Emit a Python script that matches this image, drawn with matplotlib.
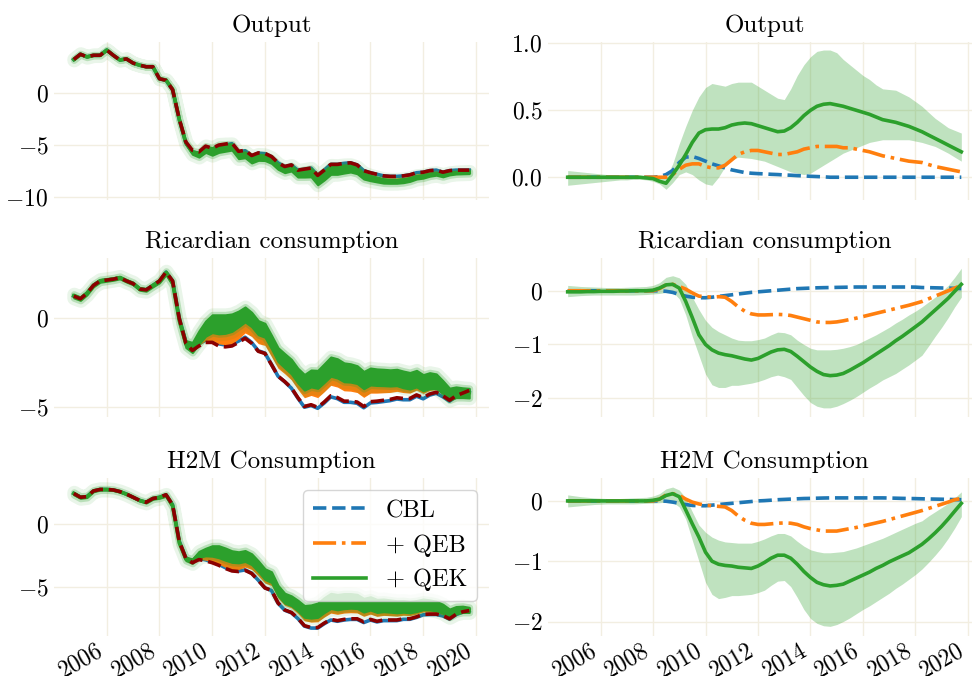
import numpy as np
import pandas as pd
import matplotlib
matplotlib.use("Agg")
import matplotlib.pyplot as plt
import matplotlib.dates as mdates
from matplotlib.ticker import FuncFormatter, FixedLocator

plt.rcParams['font.family'] = ['cmr10', 'DejaVu Serif']
plt.rcParams['mathtext.fontset'] = 'cm'
plt.rcParams['axes.unicode_minus'] = False

# ---------------- data (quarterly, 2004Q4 .. 2019Q4) ----------------
dates = pd.date_range('2004-10-01', periods=61, freq='QS')

titles = ["Output", "Ricardian consumption", "H2M Consumption"]
legend_labels = ["CBL", "+ QEB", "+ QEK"]

# observed series (left panels, dashed dark red)
out_data = [3.2, 3.7, 3.45, 3.6, 3.6, 4.1, 3.6, 3.15, 3.25, 2.85, 2.65, 2.5, 2.5, 1.35, 1.2, 0.3,
            -2.5, -4.7, -5.5, -5.65, -5.1, -5.3, -5.0, -4.9, -4.8, -5.6, -5.5, -6.0, -5.75, -5.8,
            -6.1, -6.7, -7.05, -6.9, -7.4, -7.3, -7.2, -7.9, -7.4, -6.85, -6.85, -6.75, -6.7, -6.9,
            -7.45, -7.65, -7.8, -7.95, -8.0, -8.0, -7.95, -7.85, -7.65, -7.6, -7.45, -7.4, -7.6,
            -7.45, -7.4, -7.4, -7.4]
ric_data = [1.25, 1.1, 1.4, 1.85, 2.1, 2.15, 2.2, 2.28, 2.1, 1.95, 1.65, 1.6, 1.85, 2.1, 2.6, 2.1,
            0.0, -1.4, -1.8, -1.55, -1.35, -1.35, -1.55, -1.6, -1.55, -1.35, -1.12, -1.4, -1.85, -1.97,
            -2.6, -3.25, -3.55, -3.9, -4.45, -4.95, -4.85, -5.0, -4.7, -4.35, -4.45, -4.65, -4.65, -4.7,
            -4.95, -4.68, -4.65, -4.6, -4.55, -4.46, -4.5, -4.5, -4.3, -4.45, -4.25, -4.15, -4.35,
            -4.6, -4.35, -4.2, -4.05]
h2m_data = [2.4, 2.1, 2.15, 2.6, 2.72, 2.72, 2.68, 2.55, 2.35, 2.1, 1.85, 1.7, 2.0, 2.1, 2.3, 1.5,
            -1.4, -2.75, -3.1, -2.85, -2.95, -3.1, -3.3, -3.55, -3.75, -3.8, -3.7, -3.95, -4.5, -5.1,
            -5.3, -6.3, -6.85, -7.05, -7.5, -8.1, -8.25, -8.25, -7.9, -7.6, -7.7, -7.6, -7.55, -7.55,
            -7.8, -7.6, -7.75, -7.65, -7.65, -7.65, -7.55, -7.55, -7.4, -7.2, -7.18, -7.18, -7.3,
            -7.55, -7.2, -7.0, -6.9]

# effects (right panels)
out_cbl = [0]*14 + [0.005, 0.02, 0.05, 0.11, 0.15, 0.155, 0.14, 0.12, 0.10, 0.085, 0.07, 0.055, 0.045,
           0.035, 0.03, 0.027, 0.025, 0.022, 0.02, 0.017, 0.015, 0.012, 0.01, 0.007, 0.005, 0.003] + [0.0]*21
out_qeb = [0]*16 + [0.02, 0.06, 0.09, 0.10, 0.10, 0.08, 0.07, 0.07, 0.09, 0.13, 0.17, 0.19, 0.20, 0.20,
           0.19, 0.18, 0.17, 0.17, 0.18, 0.19, 0.21, 0.22, 0.23, 0.23, 0.23, 0.23, 0.22, 0.22, 0.21,
           0.20, 0.19, 0.175, 0.16, 0.15, 0.14, 0.13, 0.12, 0.115, 0.11, 0.095, 0.08, 0.07, 0.06,
           0.05, 0.04]
out_qek = [0]*12 + [-0.005, -0.01, -0.03, -0.045, 0.02, 0.09, 0.17, 0.26, 0.33, 0.355, 0.36, 0.36,
           0.37, 0.39, 0.40, 0.405, 0.40, 0.385, 0.37, 0.355, 0.34, 0.345, 0.37, 0.41, 0.46, 0.50,
           0.53, 0.545, 0.55, 0.54, 0.53, 0.515, 0.50, 0.485, 0.47, 0.45, 0.43, 0.42, 0.41, 0.395,
           0.38, 0.36, 0.34, 0.315, 0.29, 0.265, 0.24, 0.215, 0.19]
out_qek_hi = [0.05, 0.045, 0.04, 0.035, 0.03, 0.025, 0.02, 0.018, 0.015, 0.013, 0.012, 0.01, 0.01,
              0.008, 0.0, 0.0, 0.1, 0.25, 0.38, 0.50, 0.60, 0.67, 0.70, 0.69, 0.68, 0.70, 0.71, 0.71,
              0.71, 0.68, 0.65, 0.62, 0.59, 0.58, 0.66, 0.76, 0.84, 0.90, 0.94, 0.95, 0.95, 0.93, 0.88,
              0.84, 0.80, 0.76, 0.73, 0.69, 0.66, 0.655, 0.65, 0.625, 0.60, 0.565, 0.53, 0.485, 0.44,
              0.405, 0.37, 0.35, 0.33]
out_qek_lo = [-0.06, -0.055, -0.05, -0.045, -0.04, -0.035, -0.03, -0.025, -0.02, -0.02, -0.015,
              -0.015, -0.02, -0.03, -0.05, -0.09, -0.04, 0.02, 0.04, 0.02, -0.02, -0.05, -0.06, 0.0,
              0.08, 0.13, 0.15, 0.145, 0.14, 0.13, 0.12, 0.10, 0.08, 0.06, 0.04, 0.03, 0.02, 0.03,
              0.06, 0.09, 0.12, 0.15, 0.18, 0.20, 0.22, 0.24, 0.26, 0.27, 0.28, 0.28, 0.28, 0.28,
              0.28, 0.27, 0.26, 0.245, 0.23, 0.205, 0.18, 0.15, 0.12]

ric_cbl = [0]*15 + [-0.01, -0.03, -0.07, -0.10, -0.12, -0.13, -0.13, -0.12, -0.105, -0.09, -0.075,
           -0.06, -0.045, -0.03, -0.02, -0.01, 0.0, 0.01, 0.02, 0.03, 0.04, 0.045, 0.05, 0.055, 0.058,
           0.06, 0.063, 0.065, 0.068, 0.07, 0.07, 0.07, 0.07, 0.07, 0.07, 0.07, 0.07, 0.07, 0.068,
           0.06, 0.058, 0.055, 0.052, 0.05, 0.045, 0.04]
ric_qeb = [0]*14 + [0.04, 0.11, 0.12, 0.08, 0.03, -0.04, -0.1, -0.11, -0.12, -0.11, -0.12, -0.2, -0.3,
           -0.38, -0.43, -0.45, -0.45, -0.445, -0.44, -0.445, -0.46, -0.49, -0.52, -0.55, -0.58, -0.59,
           -0.59, -0.58, -0.56, -0.535, -0.51, -0.48, -0.45, -0.42, -0.39, -0.36, -0.33, -0.3, -0.27,
           -0.235, -0.2, -0.15, -0.1, -0.05, 0.0, 0.05, 0.1]
ric_qek = [-0.02, -0.02, -0.02, -0.015, -0.015, -0.01, -0.01, -0.01, -0.005, -0.005, 0.0, 0.0, 0.0,
           0.01, 0.05, 0.11, 0.12, 0.05, -0.2, -0.5, -0.82, -1.0, -1.10, -1.16, -1.19, -1.21, -1.24,
           -1.27, -1.29, -1.26, -1.2, -1.14, -1.10, -1.09, -1.13, -1.22, -1.32, -1.42, -1.50, -1.56,
           -1.58, -1.57, -1.54, -1.48, -1.41, -1.34, -1.26, -1.18, -1.10, -1.02, -0.93, -0.85, -0.76,
           -0.67, -0.58, -0.47, -0.36, -0.25, -0.14, -0.01, 0.12]
ric_qek_hi = [0.10, 0.09, 0.08, 0.075, 0.07, 0.065, 0.06, 0.06, 0.06, 0.065, 0.07, 0.075, 0.08, 0.10,
              0.15, 0.25, 0.28, 0.24, 0.12, -0.12, -0.35, -0.55, -0.68, -0.76, -0.82, -0.88, -0.92,
              -0.93, -0.93, -0.91, -0.88, -0.82, -0.77, -0.78, -0.82, -0.92, -1.0, -1.07, -1.1, -1.1,
              -1.1, -1.09, -1.07, -1.04, -1.0, -0.94, -0.88, -0.82, -0.75, -0.68, -0.6, -0.53, -0.45,
              -0.38, -0.3, -0.21, -0.12, -0.01, 0.1, 0.25, 0.42]
ric_qek_lo = [-0.11, -0.1, -0.09, -0.085, -0.08, -0.08, -0.08, -0.08, -0.08, -0.08, -0.08, -0.075,
              -0.07, -0.06, -0.05, -0.03, -0.02, -0.15, -0.45, -0.85, -1.2, -1.55, -1.75, -1.8, -1.8,
              -1.76, -1.76, -1.74, -1.72, -1.69, -1.65, -1.6, -1.57, -1.6, -1.65, -1.8, -1.95, -2.08,
              -2.15, -2.18, -2.18, -2.15, -2.1, -2.04, -1.97, -1.89, -1.81, -1.74, -1.66, -1.6, -1.54,
              -1.46, -1.38, -1.29, -1.2, -1.03, -0.85, -0.68, -0.5, -0.3, -0.12]

h2m_cbl = [0]*15 + [-0.005, -0.02, -0.04, -0.06, -0.075, -0.08, -0.08, -0.07, -0.06, -0.05, -0.04,
           -0.03, -0.02, -0.01, 0.0, 0.005, 0.012, 0.02, 0.025, 0.03, 0.035, 0.04, 0.042, 0.045, 0.048,
           0.05, 0.05, 0.05, 0.05, 0.05, 0.05, 0.05, 0.05, 0.05, 0.048, 0.045, 0.042, 0.04, 0.038,
           0.035, 0.032, 0.03, 0.028, 0.025, 0.022, 0.02]
h2m_qeb = [0]*14 + [0.03, 0.1, 0.12, 0.09, 0.03, -0.02, -0.05, -0.07, -0.08, -0.09, -0.1, -0.16, -0.25,
           -0.32, -0.37, -0.39, -0.39, -0.38, -0.37, -0.365, -0.37, -0.39, -0.43, -0.46, -0.48, -0.5,
           -0.5, -0.5, -0.48, -0.46, -0.44, -0.415, -0.39, -0.365, -0.34, -0.31, -0.28, -0.25, -0.22,
           -0.19, -0.16, -0.125, -0.09, -0.055, -0.02, 0.02, 0.04]
h2m_qek = [0]*13 + [0.01, 0.03, 0.09, 0.12, 0.07, -0.15, -0.38, -0.6, -0.85, -1.0, -1.05, -1.07, -1.08,
           -1.1, -1.11, -1.12, -1.08, -1.02, -0.95, -0.9, -0.9, -0.95, -1.05, -1.17, -1.27, -1.35,
           -1.39, -1.41, -1.4, -1.38, -1.33, -1.28, -1.23, -1.18, -1.12, -1.07, -1.01, -0.96, -0.91,
           -0.86, -0.79, -0.72, -0.63, -0.53, -0.42, -0.3, -0.17, -0.04]
h2m_qek_hi = [0.10, 0.085, 0.07, 0.06, 0.05, 0.045, 0.04, 0.04, 0.04, 0.045, 0.05, 0.055, 0.06, 0.08,
              0.12, 0.2, 0.23, 0.18, 0.05, -0.18, -0.4, -0.52, -0.6, -0.65, -0.68, -0.69, -0.7, -0.7,
              -0.7, -0.67, -0.63, -0.58, -0.54, -0.54, -0.58, -0.67, -0.75, -0.81, -0.84, -0.86, -0.86,
              -0.85, -0.84, -0.81, -0.78, -0.74, -0.7, -0.66, -0.62, -0.57, -0.52, -0.47, -0.42, -0.37,
              -0.33, -0.25, -0.18, -0.11, -0.04, 0.05, 0.15]
h2m_qek_lo = [-0.1, -0.09, -0.08, -0.07, -0.06, -0.055, -0.05, -0.05, -0.05, -0.05, -0.05, -0.045,
              -0.04, -0.035, -0.03, -0.02, -0.02, -0.1, -0.3, -0.65, -1.0, -1.35, -1.55, -1.62, -1.6,
              -1.57, -1.57, -1.56, -1.55, -1.52, -1.48, -1.4, -1.33, -1.32, -1.42, -1.6, -1.8, -1.95,
              -2.03, -2.07, -2.08, -2.05, -2.0, -1.94, -1.87, -1.8, -1.74, -1.67, -1.6, -1.53, -1.45,
              -1.38, -1.3, -1.22, -1.13, -1.02, -0.9, -0.77, -0.62, -0.45, -0.26]

panels = [
    dict(data=out_data, cbl=out_cbl, qeb=out_qeb, qek=out_qek, lo=out_qek_lo, hi=out_qek_hi),
    dict(data=ric_data, cbl=ric_cbl, qeb=ric_qeb, qek=ric_qek, lo=ric_qek_lo, hi=ric_qek_hi),
    dict(data=h2m_data, cbl=h2m_cbl, qeb=h2m_qeb, qek=h2m_qek, lo=h2m_qek_lo, hi=h2m_qek_hi),
]

left_ylims = [(-10.26, 4.87), (-5.54, 3.39), (-8.92, 3.63)]
right_ylims = [(-0.17, 1.01), (-2.35, 0.61), (-2.24, 0.38)]
left_yticks = [[-10, -5, 0], [-5, 0], [-5, 0]]
right_yticks = [[0.0, 0.5, 1.0], [-2, -1, 0], [-2, -1, 0]]
right_fmt = ["%.1f", "%d", "%d"]

# ---------------- style ----------------
C_BLUE, C_ORANGE, C_GREEN = "#1f77b4", "#ff7f0e", "#2ca02c"
C_DATA = "#8b0000"
GRID = "#f2eee1"
TICK_FS = 17
TITLE_FS = 18
W, H = 972, 676
fig = plt.figure(figsize=(W / 100, H / 100), dpi=100)

rows_px = [(42, 200), (258, 417), (478, 636)]
left_px = (54, 435)
right_px = (548, 433)


def px_axes(x0, w, top, bottom):
    return fig.add_axes([x0 / W, 1 - bottom / H, w / W, (bottom - top) / H])


def mfmt(fmt):
    def f(v, pos):
        s = fmt % v
        if s.startswith('-'):
            return r'$-' + s[1:] + '$'
        return r'$' + s + '$'
    return FuncFormatter(f)


def style(ax, show_x):
    for sp in ax.spines.values():
        sp.set_visible(False)
    ax.grid(True, color=GRID, lw=1.0)
    ax.set_axisbelow(True)
    ax.tick_params(length=0, labelsize=TICK_FS, pad=4)
    ax.tick_params(axis='x', pad=2)
    ax.xaxis.set_major_locator(mdates.YearLocator(2))
    ax.xaxis.set_major_formatter(mdates.DateFormatter('%Y'))
    if show_x:
        for lab in ax.get_xticklabels():
            lab.set_rotation(30)
            lab.set_ha('right')
    else:
        ax.tick_params(labelbottom=False)


legend_handles = None
for i, p in enumerate(panels):
    top, bottom = rows_px[i]
    data = np.array(p['data'])
    cbl = np.array(p['cbl'])
    qeb = np.array(p['qeb'])
    qek = np.array(p['qek'])
    lo = np.array(p['lo'])
    hi = np.array(p['hi'])

    # ----- left: counterfactual paths around the observed series -----
    axl = px_axes(left_px[0], left_px[1], top, bottom)
    axl.plot(dates, data - cbl, color=C_BLUE, lw=2.6, zorder=2)
    axl.fill_between(dates, data - qeb, data - hi, color=C_ORANGE, lw=0, zorder=3)
    axl.fill_between(dates, data - hi, data - lo, facecolor=C_GREEN, edgecolor=C_GREEN,
                     alpha=0.10, lw=10, zorder=3)
    axl.fill_between(dates, data - hi, data - lo, facecolor=C_GREEN, edgecolor=C_GREEN,
                     alpha=0.25, lw=5, zorder=3)
    axl.fill_between(dates, data - hi, data - lo, facecolor=C_GREEN, edgecolor=C_GREEN,
                     lw=1.5, zorder=4)
    axl.plot(dates, data - qek, color=C_GREEN, lw=2.6, zorder=4)
    axl.plot(dates, data, color=C_DATA, ls='--', lw=2.6, zorder=5)
    axl.set_ylim(*left_ylims[i])
    axl.yaxis.set_major_locator(FixedLocator(left_yticks[i]))
    axl.yaxis.set_major_formatter(mfmt("%d"))
    axl.set_title(titles[i], fontsize=TITLE_FS, pad=7)
    style(axl, i == 2)

    # ----- right: effects -----
    axr = px_axes(right_px[0], right_px[1], top, bottom)
    axr.fill_between(dates, lo, hi, color=C_GREEN, alpha=0.3, lw=0)
    h1, = axr.plot(dates, cbl, color=C_BLUE, ls='--', lw=2.6)
    h2, = axr.plot(dates, qeb, color=C_ORANGE, ls='-.', lw=2.6)
    h3, = axr.plot(dates, qek, color=C_GREEN, ls='-', lw=2.6)
    axr.set_xlim(axl.get_xlim())
    axr.set_ylim(*right_ylims[i])
    axr.yaxis.set_major_locator(FixedLocator(right_yticks[i]))
    axr.yaxis.set_major_formatter(mfmt(right_fmt[i]))
    axr.set_title(titles[i], fontsize=TITLE_FS, pad=7)
    style(axr, i == 2)
    legend_handles = [h1, h2, h3]

    if i == 2:
        leg = axl.legend(legend_handles, legend_labels, loc='upper right', fontsize=17.5,
                         handlelength=2.2, borderaxespad=0.5, framealpha=0.8,
                         edgecolor='#cccccc')
        leg.set_zorder(10)

fig.savefig("out.png", dpi=100)
